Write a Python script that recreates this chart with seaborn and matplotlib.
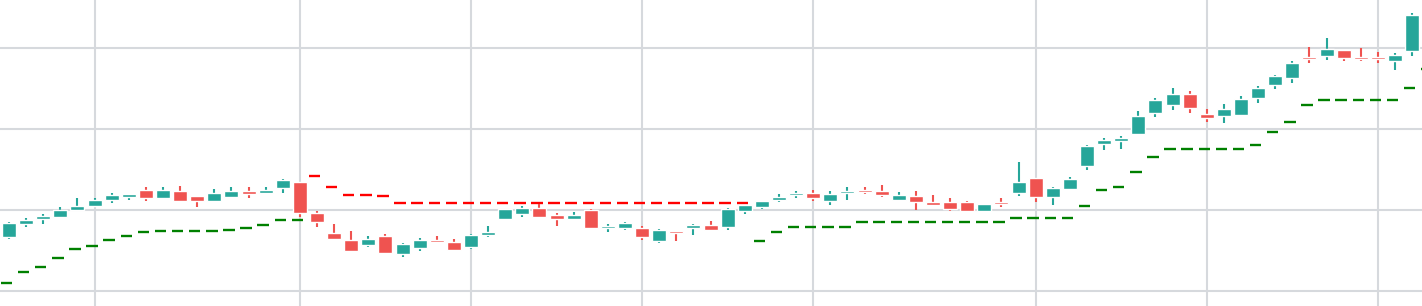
import numpy as np
import pandas as pd
import matplotlib
matplotlib.use("Agg")
import matplotlib.pyplot as plt
import seaborn as sns

# OHLC candles (83 sessions)
open_ = [106.7, 108.3, 108.9, 109.1, 110.0, 110.5, 111.2, 111.6, 112.4, 111.4,
         112.3, 111.7, 111.1, 111.6, 112.3, 112.1, 112.7, 113.4, 109.6, 107.1,
         106.3, 105.7, 106.8, 104.5, 105.3, 106.3, 106.0, 105.4, 106.9, 108.9,
         109.5, 110.2, 109.4, 108.8, 110.0, 107.7, 107.8, 107.8, 106.2, 107.3,
         107.7, 108.1, 107.9, 109.9, 110.3, 111.2, 111.8, 112.1, 111.1, 112.1,
         112.4, 112.3, 111.2, 111.7, 111.0, 111.0, 111.0, 109.9, 111.0, 112.1,
         113.9, 111.6, 112.6, 115.4, 118.1, 118.5, 119.4, 121.9, 122.9, 124.3,
         121.8, 121.6, 121.7, 123.8, 125.4, 126.3, 128.9, 129.0, 129.7, 128.9,
         128.9, 128.4, 129.6]
high = [108.5, 109.0, 109.5, 110.3, 111.5, 111.5, 112.1, 112.0, 112.8, 112.8,
        112.9, 111.7, 112.6, 112.8, 112.8, 112.8, 113.8, 113.4, 109.9, 108.2,
        107.4, 106.8, 107.0, 105.9, 106.5, 106.8, 106.4, 107.0, 108.0, 110.1,
        110.5, 110.7, 109.6, 109.7, 110.1, 108.2, 108.5, 108.0, 107.6, 107.3,
        108.2, 108.6, 110.2, 110.6, 111.1, 112.0, 112.3, 112.4, 112.3, 112.8,
        112.8, 113.1, 112.2, 112.3, 111.8, 111.5, 111.1, 110.7, 111.5, 115.9,
        113.9, 112.8, 114.0, 118.0, 118.9, 119.1, 122.2, 123.8, 125.0, 124.7,
        122.4, 123.1, 124.0, 125.3, 126.6, 128.4, 130.1, 131.2, 129.7, 130.0,
        129.5, 129.4, 134.3]
low = [106.4, 107.9, 108.3, 109.1, 109.9, 110.3, 110.8, 111.2, 111.1, 111.4,
       111.0, 110.3, 111.1, 111.4, 111.5, 111.9, 112.1, 109.1, 107.9, 106.3,
       104.8, 105.4, 104.5, 104.2, 104.9, 105.9, 104.9, 105.2, 106.7, 108.7,
       109.1, 109.0, 108.0, 108.7, 107.7, 107.3, 107.5, 106.3, 105.9, 106.2,
       106.9, 107.4, 107.5, 109.5, 110.1, 111.0, 111.5, 111.1, 110.6, 111.2,
       112.0, 111.6, 111.1, 110.0, 110.5, 109.9, 109.7, 109.7, 110.3, 111.7,
       111.0, 110.6, 112.4, 114.9, 117.4, 117.5, 119.2, 121.5, 122.3, 122.0,
       120.8, 120.7, 121.6, 123.2, 124.9, 125.7, 128.1, 128.5, 128.4, 128.4,
       128.1, 127.3, 129.0]
close = [108.4, 108.7, 109.2, 110.0, 110.5, 111.2, 111.8, 112.0, 111.4, 112.4,
         111.1, 111.1, 112.1, 112.3, 112.0, 112.4, 113.7, 109.6, 108.5, 106.4,
         104.9, 106.4, 104.7, 105.8, 106.3, 106.0, 105.0, 106.9, 107.2, 110.1,
         110.2, 109.1, 108.8, 109.4, 107.7, 108.0, 108.4, 106.6, 107.5, 107.2,
         108.1, 107.5, 110.1, 110.6, 111.1, 111.6, 112.1, 111.4, 112.0, 112.2,
         112.2, 111.8, 111.8, 110.9, 110.6, 110.1, 109.9, 110.7, 110.7, 113.4,
         111.6, 112.7, 113.8, 117.9, 118.6, 118.9, 121.6, 123.6, 124.3, 122.6,
         121.3, 122.4, 123.7, 125.0, 126.5, 128.1, 128.6, 129.9, 128.7, 128.6,
         128.6, 129.1, 134.0]

# trailing stop (one extra value projected for the next session)
stop = [100.9, 102.3, 102.9, 104.1, 105.2, 105.5, 106.3, 106.8, 107.2, 107.4,
        107.4, 107.4, 107.4, 107.5, 107.7, 108.1, 108.7, 108.7, 114.2, 112.8,
        111.8, 111.8, 111.7, 110.8, 110.8, 110.8, 110.8, 110.8, 110.8, 110.8,
        110.8, 110.8, 110.8, 110.8, 110.8, 110.8, 110.8, 110.8, 110.8, 110.8,
        110.8, 110.8, 110.8, 110.8, 106.2, 107.3, 107.9, 107.9, 107.9, 107.9,
        108.5, 108.5, 108.5, 108.5, 108.5, 108.5, 108.5, 108.5, 108.5, 109.0,
        109.0, 109.0, 109.0, 110.5, 112.4, 112.8, 114.7, 116.5, 117.5, 117.5,
        117.5, 117.5, 117.5, 118.0, 119.6, 120.8, 122.9, 123.6, 123.6, 123.6,
        123.6, 123.6, 125.0, 127.4]

date_ticks = [5, 17, 27, 37, 47, 60, 70, 80]
price_ticks = [100, 110, 120, 130]

df = pd.DataFrame({"open": open_, "high": high, "low": low, "close": close})
df["color"] = np.where(df["close"] >= df["open"], "#26a69a", "#ef5350")

st = pd.DataFrame({"stop": stop})
st["idx"] = np.arange(len(st))
cl = pd.Series(close).reindex(st["idx"])
st["color"] = np.where(st["stop"] > cl.values, "red", "green")

sns.set_theme(style="whitegrid")
fig, ax = plt.subplots(figsize=(14.22, 3.06), dpi=100)
fig.subplots_adjust(left=0, right=1, bottom=0, top=1)

x = np.arange(len(df))
ax.vlines(x, df["low"], df["high"], colors=df["color"], lw=1.5, zorder=3)
# keep doji bodies visible (min height)
body = (df["close"] - df["open"]).abs().clip(lower=0.22)
bottom = (df["open"] + df["close"]) / 2 - body / 2
ax.bar(x, body, bottom=bottom, width=0.82, color=df["color"], zorder=4)

ax.hlines(st["stop"], st["idx"] - 0.48, st["idx"] + 0.19, colors=st["color"], lw=1.7, zorder=2)

ax.set_xlim(-0.526, 82.58)
ax.set_ylim(98.12, 135.9)
ax.set_xticks(date_ticks)
ax.set_yticks(price_ticks)
ax.tick_params(labelbottom=False, labelleft=False, length=0)
ax.grid(color="#d6d9dd", lw=1.5)
for s in ax.spines.values():
    s.set_visible(False)

fig.savefig("out.png", dpi=100)
